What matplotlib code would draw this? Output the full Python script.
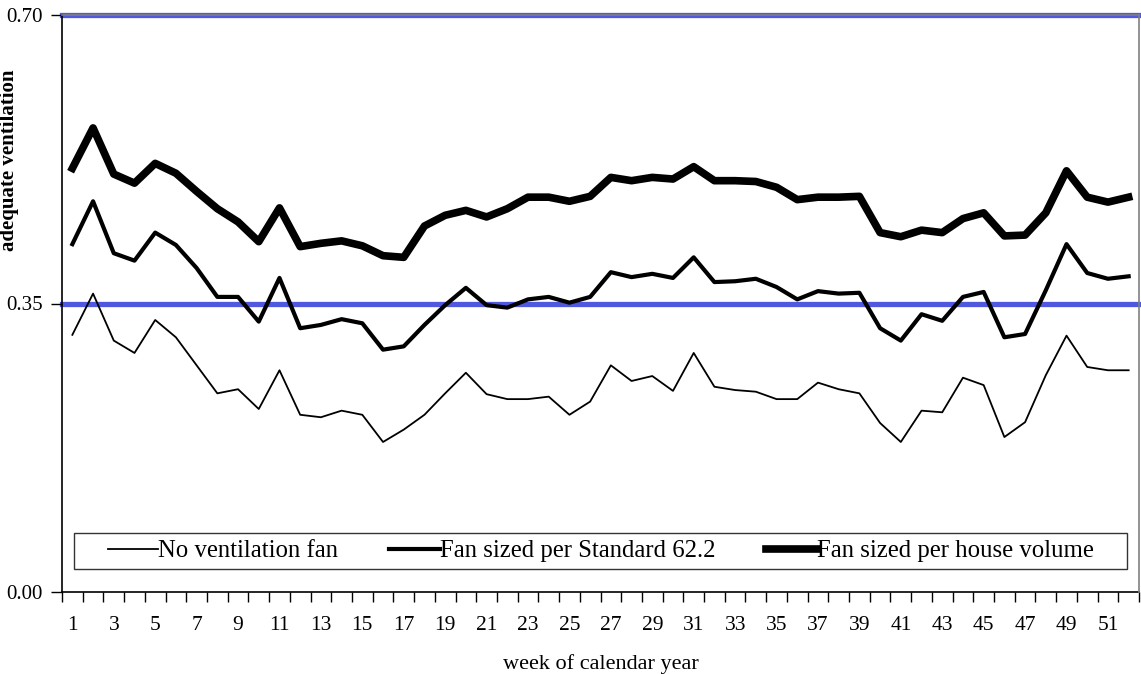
import matplotlib.pyplot as plt
import numpy as np
from matplotlib.patches import Rectangle

plt.rcParams['font.family'] = ['Liberation Serif', 'DejaVu Serif']

weeks = list(range(1, 53))

no_fan = [0.312, 0.362, 0.305, 0.290, 0.330, 0.309, 0.275, 0.241, 0.246, 0.222,
          0.269, 0.215, 0.212, 0.220, 0.215, 0.182, 0.197, 0.215, 0.241, 0.266,
          0.240, 0.234, 0.234, 0.237, 0.215, 0.231, 0.275, 0.256, 0.262, 0.244,
          0.290, 0.249, 0.245, 0.243, 0.234, 0.234, 0.254, 0.246, 0.241, 0.205,
          0.182, 0.220, 0.218, 0.260, 0.251, 0.188, 0.206, 0.263, 0.311, 0.273,
          0.269, 0.269]

fan_622 = [0.422, 0.474, 0.411, 0.402, 0.436, 0.421, 0.393, 0.358, 0.358, 0.328,
           0.381, 0.320, 0.324, 0.331, 0.326, 0.294, 0.298, 0.324, 0.348, 0.369,
           0.348, 0.345, 0.355, 0.358, 0.351, 0.358, 0.388, 0.382, 0.386, 0.381,
           0.406, 0.376, 0.377, 0.380, 0.370, 0.355, 0.365, 0.362, 0.363, 0.320,
           0.305, 0.337, 0.329, 0.358, 0.364, 0.309, 0.313, 0.366, 0.422, 0.387,
           0.380, 0.383]

fan_volume = [0.514, 0.563, 0.507, 0.496, 0.520, 0.508, 0.486, 0.465, 0.449, 0.425,
              0.466, 0.419, 0.423, 0.426, 0.420, 0.408, 0.406, 0.444, 0.457, 0.463,
              0.455, 0.465, 0.479, 0.479, 0.474, 0.480, 0.503, 0.499, 0.503, 0.501,
              0.516, 0.499, 0.499, 0.498, 0.491, 0.476, 0.479, 0.479, 0.480, 0.436,
              0.431, 0.439, 0.436, 0.453, 0.460, 0.432, 0.433, 0.460, 0.511, 0.479,
              0.473, 0.479]

labels = ["No ventilation fan", "Fan sized per Standard 62.2", "Fan sized per house volume"]
ref_levels = [0.35, 0.70]

W, H = 1141, 674
fig = plt.figure(figsize=(W / 100, H / 100), dpi=100)
ax = fig.add_axes([62 / W, (H - 592) / H, (1139 - 62) / W, (592 - 15) / H])

blue = '#5058de'
for lvl in ref_levels:
    ax.axhline(lvl, color=blue, lw=3.8, zorder=1, clip_on=False)

ax.plot(weeks, no_fan, color='black', lw=1.3, label=labels[0], zorder=3)
ax.plot(weeks, fan_622, color='black', lw=3.0, label=labels[1], zorder=3)
ax.plot(weeks, fan_volume, color='black', lw=5.5, label=labels[2], zorder=3)

ax.set_xlim(0.5, 52.5)
ax.set_ylim(0, 0.70)

# labels on odd weeks, tick marks between weeks
ax.set_xticks(range(1, 53, 2))
ax.set_xticklabels([str(w) for w in range(1, 53, 2)])
ax.set_xticks(np.arange(0.5, 53, 1), minor=True)
ax.tick_params(axis='x', which='major', length=0, pad=17, labelsize=15.5)
ax.tick_params(axis='x', which='minor', length=7, width=1, direction='out')

ax.set_yticks([0, 0.35, 0.70])
ax.set_yticklabels(['0.00', '0.35', '0.70'])
ax.tick_params(axis='y', length=8, width=1, pad=6, labelsize=15)

for s in ['left', 'bottom']:
    ax.spines[s].set_color('black')
    ax.spines[s].set_linewidth(1.2)
for s in ['top', 'right']:
    ax.spines[s].set_color('#808080')
    ax.spines[s].set_linewidth(1.2)
    ax.spines[s].set_zorder(5)

ax.set_xlabel("week of calendar year", fontsize=16, labelpad=14)
ax.set_ylabel("adequate ventilation", fontsize=15, fontweight='bold')
ax.yaxis.set_label_coords(-0.040, 0.748)

# legend box drawn separately so its padding matches the original
to_ax = lambda px, py: ((px - 62) / 1077, (592 - py) / 577)
bx0, by0 = to_ax(74, 569)
bx1, by1 = to_ax(1127, 533)
ax.add_patch(Rectangle((bx0, by0), bx1 - bx0, by1 - by0, transform=ax.transAxes,
                       fill=True, facecolor='white', edgecolor='#333333', lw=1.0,
                       zorder=6, clip_on=False))

leg = ax.legend(loc='center', ncol=3, bbox_to_anchor=((bx0 + bx1) / 2, (by0 + by1) / 2),
                fontsize=17.8, frameon=False, handlelength=2.05,
                handletextpad=0.0, columnspacing=2.05, borderpad=0, borderaxespad=0)
leg.set_zorder(7)

fig.savefig('out.png', dpi=100)
